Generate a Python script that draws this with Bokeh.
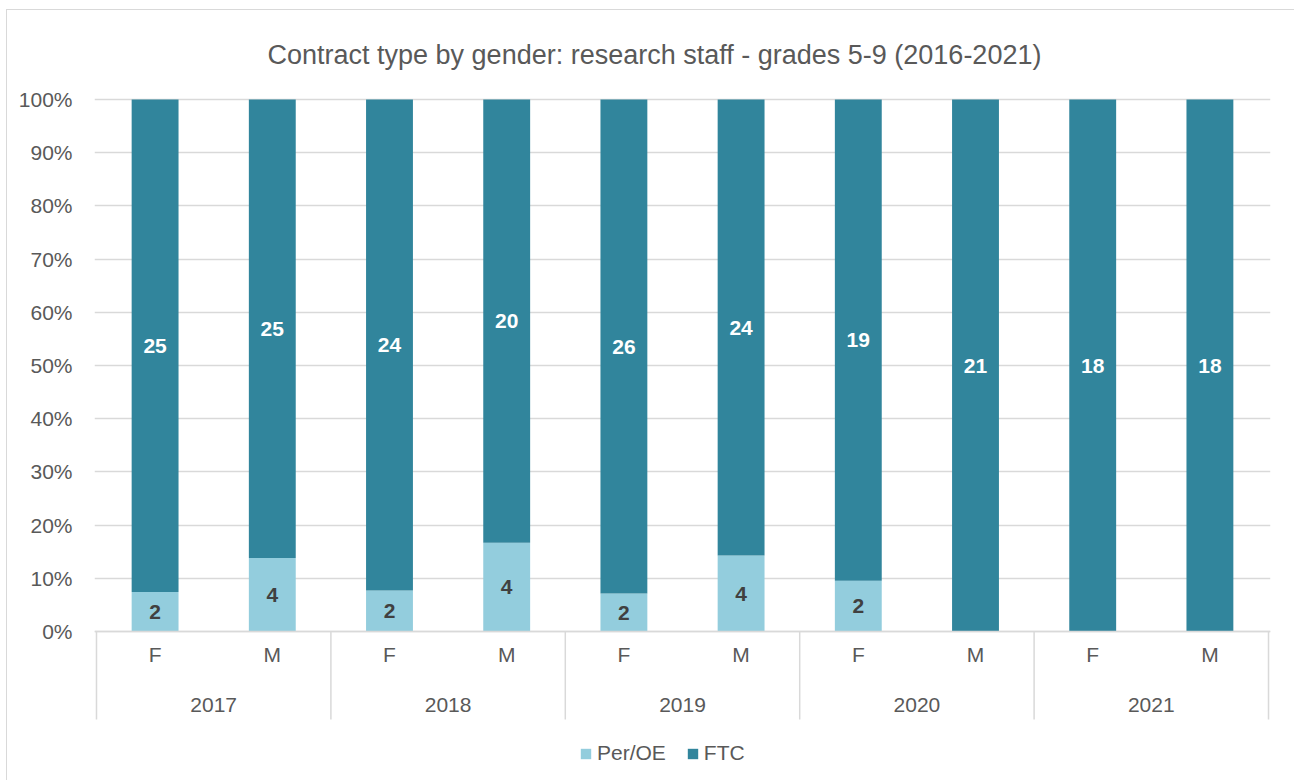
from bokeh.plotting import figure
from bokeh.models import (FactorRange, ColumnDataSource, FixedTicker, NumeralTickFormatter,
                          Legend, LegendItem, Range1d, CategoricalAxis)
from bokeh.embed import file_html
from bokeh.resources import INLINE
from bokeh.core.properties import value

# ---- data ----
years = ["2017", "2018", "2019", "2020", "2021"]
genders = ["F", "M"]
per_oe = [2, 4, 2, 4, 2, 4, 2, 0, 0, 0]
ftc = [25, 25, 24, 20, 26, 24, 19, 21, 18, 18]
series_names = ["Per/OE", "FTC"]
y_ticks = [0, 0.1, 0.2, 0.3, 0.4, 0.5, 0.6, 0.7, 0.8, 0.9, 1.0]
title_text = "Contract type by gender: research staff - grades 5-9 (2016-2021)"

# ---- style ----
FONT = "Liberation Sans"
TEXT = "#595959"
GRID = "#d9d9d9"
colors = ["#93CDDD", "#31859C"]
PX = 532.0  # px per 100%
PAD = 0.0034

factors = [(y, g) for y in years for g in genders]
tot = [a + b for a, b in zip(per_oe, ftc)]
per_pct = [a / t for a, t in zip(per_oe, tot)]
ftc_pct = [b / t for b, t in zip(ftc, tot)]
src = ColumnDataSource(dict(x=factors, per=per_pct, ftc=ftc_pct))

p = figure(
    x_range=FactorRange(*factors, range_padding=PAD, factor_padding=0,
                        group_padding=0, subgroup_padding=0),
    y_range=Range1d(-144 / PX, 1 + 2 / PX),
    width=1288, height=771, output_backend="svg", toolbar_location=None,
    min_border_left=87, min_border_right=25, min_border_top=87, min_border_bottom=6,
    title=title_text,
)
p.styles = {"border-left": "1px solid #d9d9d9", "border-top": "1px solid #d9d9d9",
            "margin-left": "6px", "margin-top": "9px"}
p.outline_line_color = None
p.extra_x_ranges = {"years": FactorRange(*years, range_padding=PAD)}

p.title.text_font = FONT
p.title.text_font_size = "27px"
p.title.text_font_style = "normal"
p.title.text_color = TEXT
p.title.align = "left"
p.title.offset = 173
p.title.standoff = 55

renderers = p.vbar_stack(["per", "ftc"], x="x", width=0.4, fill_color=colors,
                         line_color=None, source=src)

# separators of the category axis
sep_x = [(years[0], genders[0], -0.5)] + [(y, genders[-1], 0.5) for y in years]
p.segment(x0=sep_x, y0=[0] * len(sep_x), x1=sep_x, y1=[-88 / PX] * len(sep_x),
          line_color=GRID, line_width=1.5)

# labels
per_lab = dict(x=[], y=[], t=[])
ftc_lab = dict(x=[], y=[], t=[])
for f, a, b, pa, pb in zip(factors, per_oe, ftc, per_pct, ftc_pct):
    if a > 0:
        per_lab["x"].append(f); per_lab["y"].append(pa / 2); per_lab["t"].append(str(a))
    if b > 0:
        ftc_lab["x"].append(f); ftc_lab["y"].append(pa + pb / 2); ftc_lab["t"].append(str(b))
p.text(x="x", y="y", text="t", source=ColumnDataSource(per_lab), text_align="center",
       text_baseline="middle", text_font=value(FONT), text_font_style="bold",
       text_font_size="21px", text_color="#404040")
p.text(x="x", y="y", text="t", source=ColumnDataSource(ftc_lab), text_align="center",
       text_baseline="middle", text_font=value(FONT), text_font_style="bold",
       text_font_size="21px", text_color="white")

# category axis: gender row (year row hidden here, drawn by second axis)
xa = p.xaxis[0]
xa.fixed_location = 0
xa.axis_line_color = GRID
xa.axis_line_width = 1.5
xa.major_tick_line_color = None
xa.minor_tick_line_color = None
xa.separator_line_color = None
xa.major_label_text_font = FONT
xa.major_label_text_font_size = "21px"
xa.major_label_text_color = TEXT
xa.major_label_standoff = 5
xa.group_text_alpha = 0
p.xgrid.visible = False

# year row
ya2 = CategoricalAxis(x_range_name="years", fixed_location=-55 / PX)
ya2.axis_line_color = None
ya2.major_tick_line_color = None
ya2.minor_tick_line_color = None
ya2.major_label_text_font = FONT
ya2.major_label_text_font_size = "21px"
ya2.major_label_text_color = TEXT
ya2.major_label_standoff = 5
p.add_layout(ya2, "below")

ya = p.yaxis[0]
ya.ticker = FixedTicker(ticks=y_ticks)
ya.formatter = NumeralTickFormatter(format="0%")
ya.axis_line_color = None
ya.major_tick_line_color = None
ya.minor_tick_line_color = None
ya.major_label_text_font = FONT
ya.major_label_text_font_size = "21px"
ya.major_label_text_color = TEXT
ya.major_label_standoff = 16
p.ygrid.ticker = FixedTicker(ticks=y_ticks)
p.ygrid.grid_line_color = GRID
p.ygrid.grid_line_width = 1.5

legend = Legend(items=[LegendItem(label=n, renderers=[r]) for n, r in zip(series_names, renderers)],
                orientation="horizontal", location=(485, 10))
legend.glyph_width = 13
legend.glyph_height = 13
legend.label_text_font = FONT
legend.label_text_font_size = "21px"
legend.label_text_color = TEXT
legend.label_standoff = 5
legend.spacing = 20
legend.padding = 0
legend.margin = 0
legend.border_line_color = None
legend.background_fill_color = None
p.add_layout(legend)

open("out.html", "w").write(file_html(p, INLINE))
